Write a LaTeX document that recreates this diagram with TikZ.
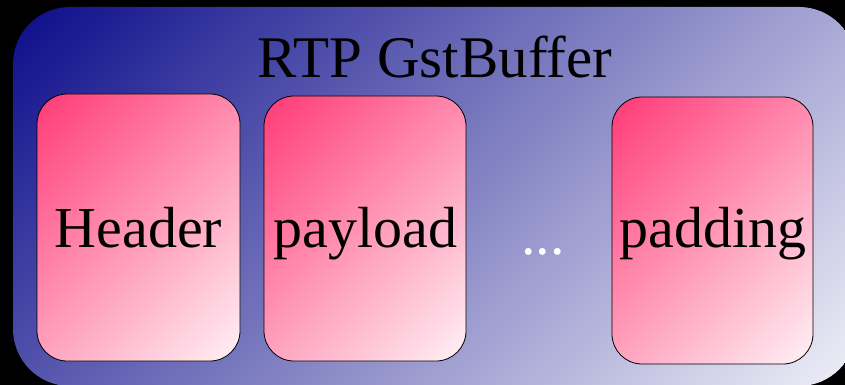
\documentclass[tikz,border=0pt]{standalone}
\usepackage{fontspec}
\setmainfont{Liberation Serif}
\definecolor{navy}{RGB}{12,12,138}
\definecolor{paleblue}{RGB}{240,240,248}
\definecolor{hotpink}{RGB}{255,58,118}
\definecolor{palepink}{RGB}{255,242,246}
\pgfdeclareverticalshading{diagblue}{100bp}{color(0bp)=(paleblue); color(14.6bp)=(paleblue); color(85.4bp)=(navy); color(100bp)=(navy)}
\pgfdeclareverticalshading{diagpink}{100bp}{color(0bp)=(palepink); color(14.6bp)=(palepink); color(85.4bp)=(hotpink); color(100bp)=(hotpink)}
\tikzset{
  bigbox/.style={rounded corners=57pt, shading=diagblue, shading angle=45},
  partbox/.style={draw=black, line width=0.8pt, rounded corners=30pt,
    shading=diagpink, shading angle=45},
  lbl/.style={font=\fontsize{58}{60}\selectfont, inner sep=0pt, anchor=base, text=black}
}
\begin{document}
\begin{tikzpicture}[x=1pt,y=-1pt]
\fill[black] (0,0) rectangle (845,385);
\useasboundingbox (0,0) rectangle (845,385);
\begin{scope}
\clip (0,0) rectangle (845,385);
\shade[bigbox] (13,7) rectangle (856,386);
\end{scope}
\node[lbl, font=\fontsize{59}{61}\selectfont] (title) at (435,78) {RTP GstBuffer};
\shade[partbox] (37,94) rectangle (240,361);
\shade[partbox] (264,96) rectangle (466,361);
\shade[partbox] (612,97) rectangle (813,364);
\node[lbl] (header) at (138.5,247) {Header};
\node[lbl] (payload) at (365.5,247) {payload};
\node[lbl] (padding) at (713,247) {padding};
\node[lbl, text=white] (dots) at (543,254) {...};
\end{tikzpicture}
\end{document}
